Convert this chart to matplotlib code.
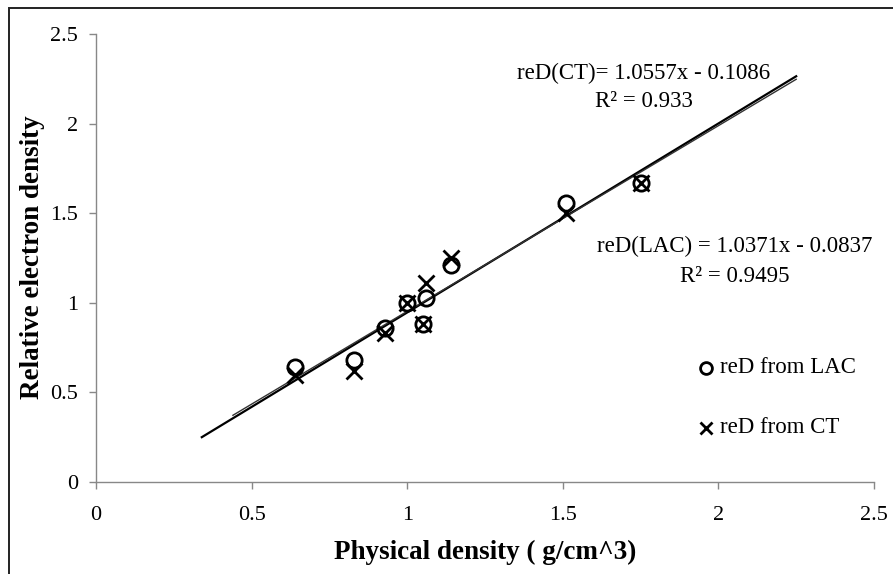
import matplotlib.pyplot as plt
from matplotlib.patches import Rectangle

# physical density of each sample, and the relative electron density from two methods
phys = [0.64, 0.83, 0.93, 1.00, 1.05, 1.06, 1.14, 1.51, 1.75]
red_lac = [0.64, 0.68, 0.86, 1.00, 0.88, 1.03, 1.21, 1.56, 1.67]
red_ct = [0.60, 0.62, 0.83, 1.00, 0.88, 1.11, 1.25, 1.50, 1.67]

# trendline coefficients (slope, intercept) and the x span Excel drew them over
ct_fit = (1.0557, -0.1086)
lac_fit = (1.0371, -0.0837)
ct_span = [0.34, 2.25]
lac_span = [0.44, 2.25]

ticks = [0, 0.5, 1, 1.5, 2, 2.5]
tick_labels = ['0', '0.5', '1', '1.5', '2', '2.5']

plt.rcParams['font.family'] = ['Liberation Serif', 'DejaVu Serif']

fig = plt.figure(figsize=(8.93, 5.74), dpi=100)
ax = fig.add_axes([0.1075, 0.1603, 0.8712, 0.7796])

# outer frame of the picture (only top and left edges show)
fig.patches.append(Rectangle((9 / 893, -0.1), 1.2, 1.1 - 8 / 574, transform=fig.transFigure,
                             fill=False, edgecolor='#222222', linewidth=1.4))

ax.plot(ct_span, [ct_fit[0] * x + ct_fit[1] for x in ct_span], color='black', lw=1.6)
ax.plot(lac_span, [lac_fit[0] * x + lac_fit[1] for x in lac_span], color='#333333', lw=1.0)

ax.plot(phys, red_lac, linestyle='none', marker='o', markersize=11, markerfacecolor='none',
        markeredgecolor='black', markeredgewidth=2)
ax.plot(phys, red_ct, linestyle='none', marker='x', markersize=11.5, markeredgecolor='black',
        markeredgewidth=2)

ax.set_xlim(0, 2.5)
ax.set_ylim(0, 2.5)
ax.set_xticks(ticks)
ax.set_xticklabels(tick_labels)
ax.set_yticks(ticks)
ax.set_yticklabels(tick_labels)
ax.tick_params(labelsize=16, color='#888888', length=5, width=1)
ax.tick_params(axis='x', pad=12)
ax.tick_params(axis='y', pad=8)
for s in ['top', 'right']:
    ax.spines[s].set_visible(False)
for s in ['left', 'bottom']:
    ax.spines[s].set_color('#888888')
    ax.spines[s].set_linewidth(1)

ax.set_xlabel('Physical density ( g/cm^3)', fontsize=19.5, fontweight='bold')
ax.set_ylabel('Relative electron density', fontsize=19.5, fontweight='bold')
ax.xaxis.set_label_coords(0.5, -0.130)
ax.yaxis.set_label_coords(-0.066, 0.503)

ax.text(1.76, 2.285, 'reD(CT)= 1.0557x - 0.1086', fontsize=16.5, ha='center', va='center')
ax.text(1.76, 2.125, 'R² = 0.933', fontsize=16.5, ha='center', va='center')
ax.text(2.053, 1.315, 'reD(LAC) = 1.0371x - 0.0837', fontsize=16.5, ha='center', va='center')
ax.text(2.053, 1.147, 'R² = 0.9495', fontsize=16.5, ha='center', va='center')

# hand-placed legend like the Excel original
ax.plot([1.96], [0.637], marker='o', markersize=8.5, markerfacecolor='none',
        markeredgecolor='black', markeredgewidth=2, clip_on=False)
ax.text(2.005, 0.637, 'reD from LAC', fontsize=16.5, va='center')
ax.plot([1.96], [0.302], marker='x', markersize=9, markeredgecolor='black',
        markeredgewidth=2, clip_on=False)
ax.text(2.005, 0.302, 'reD from CT', fontsize=16.5, va='center')

fig.savefig('out.png', dpi=100)
